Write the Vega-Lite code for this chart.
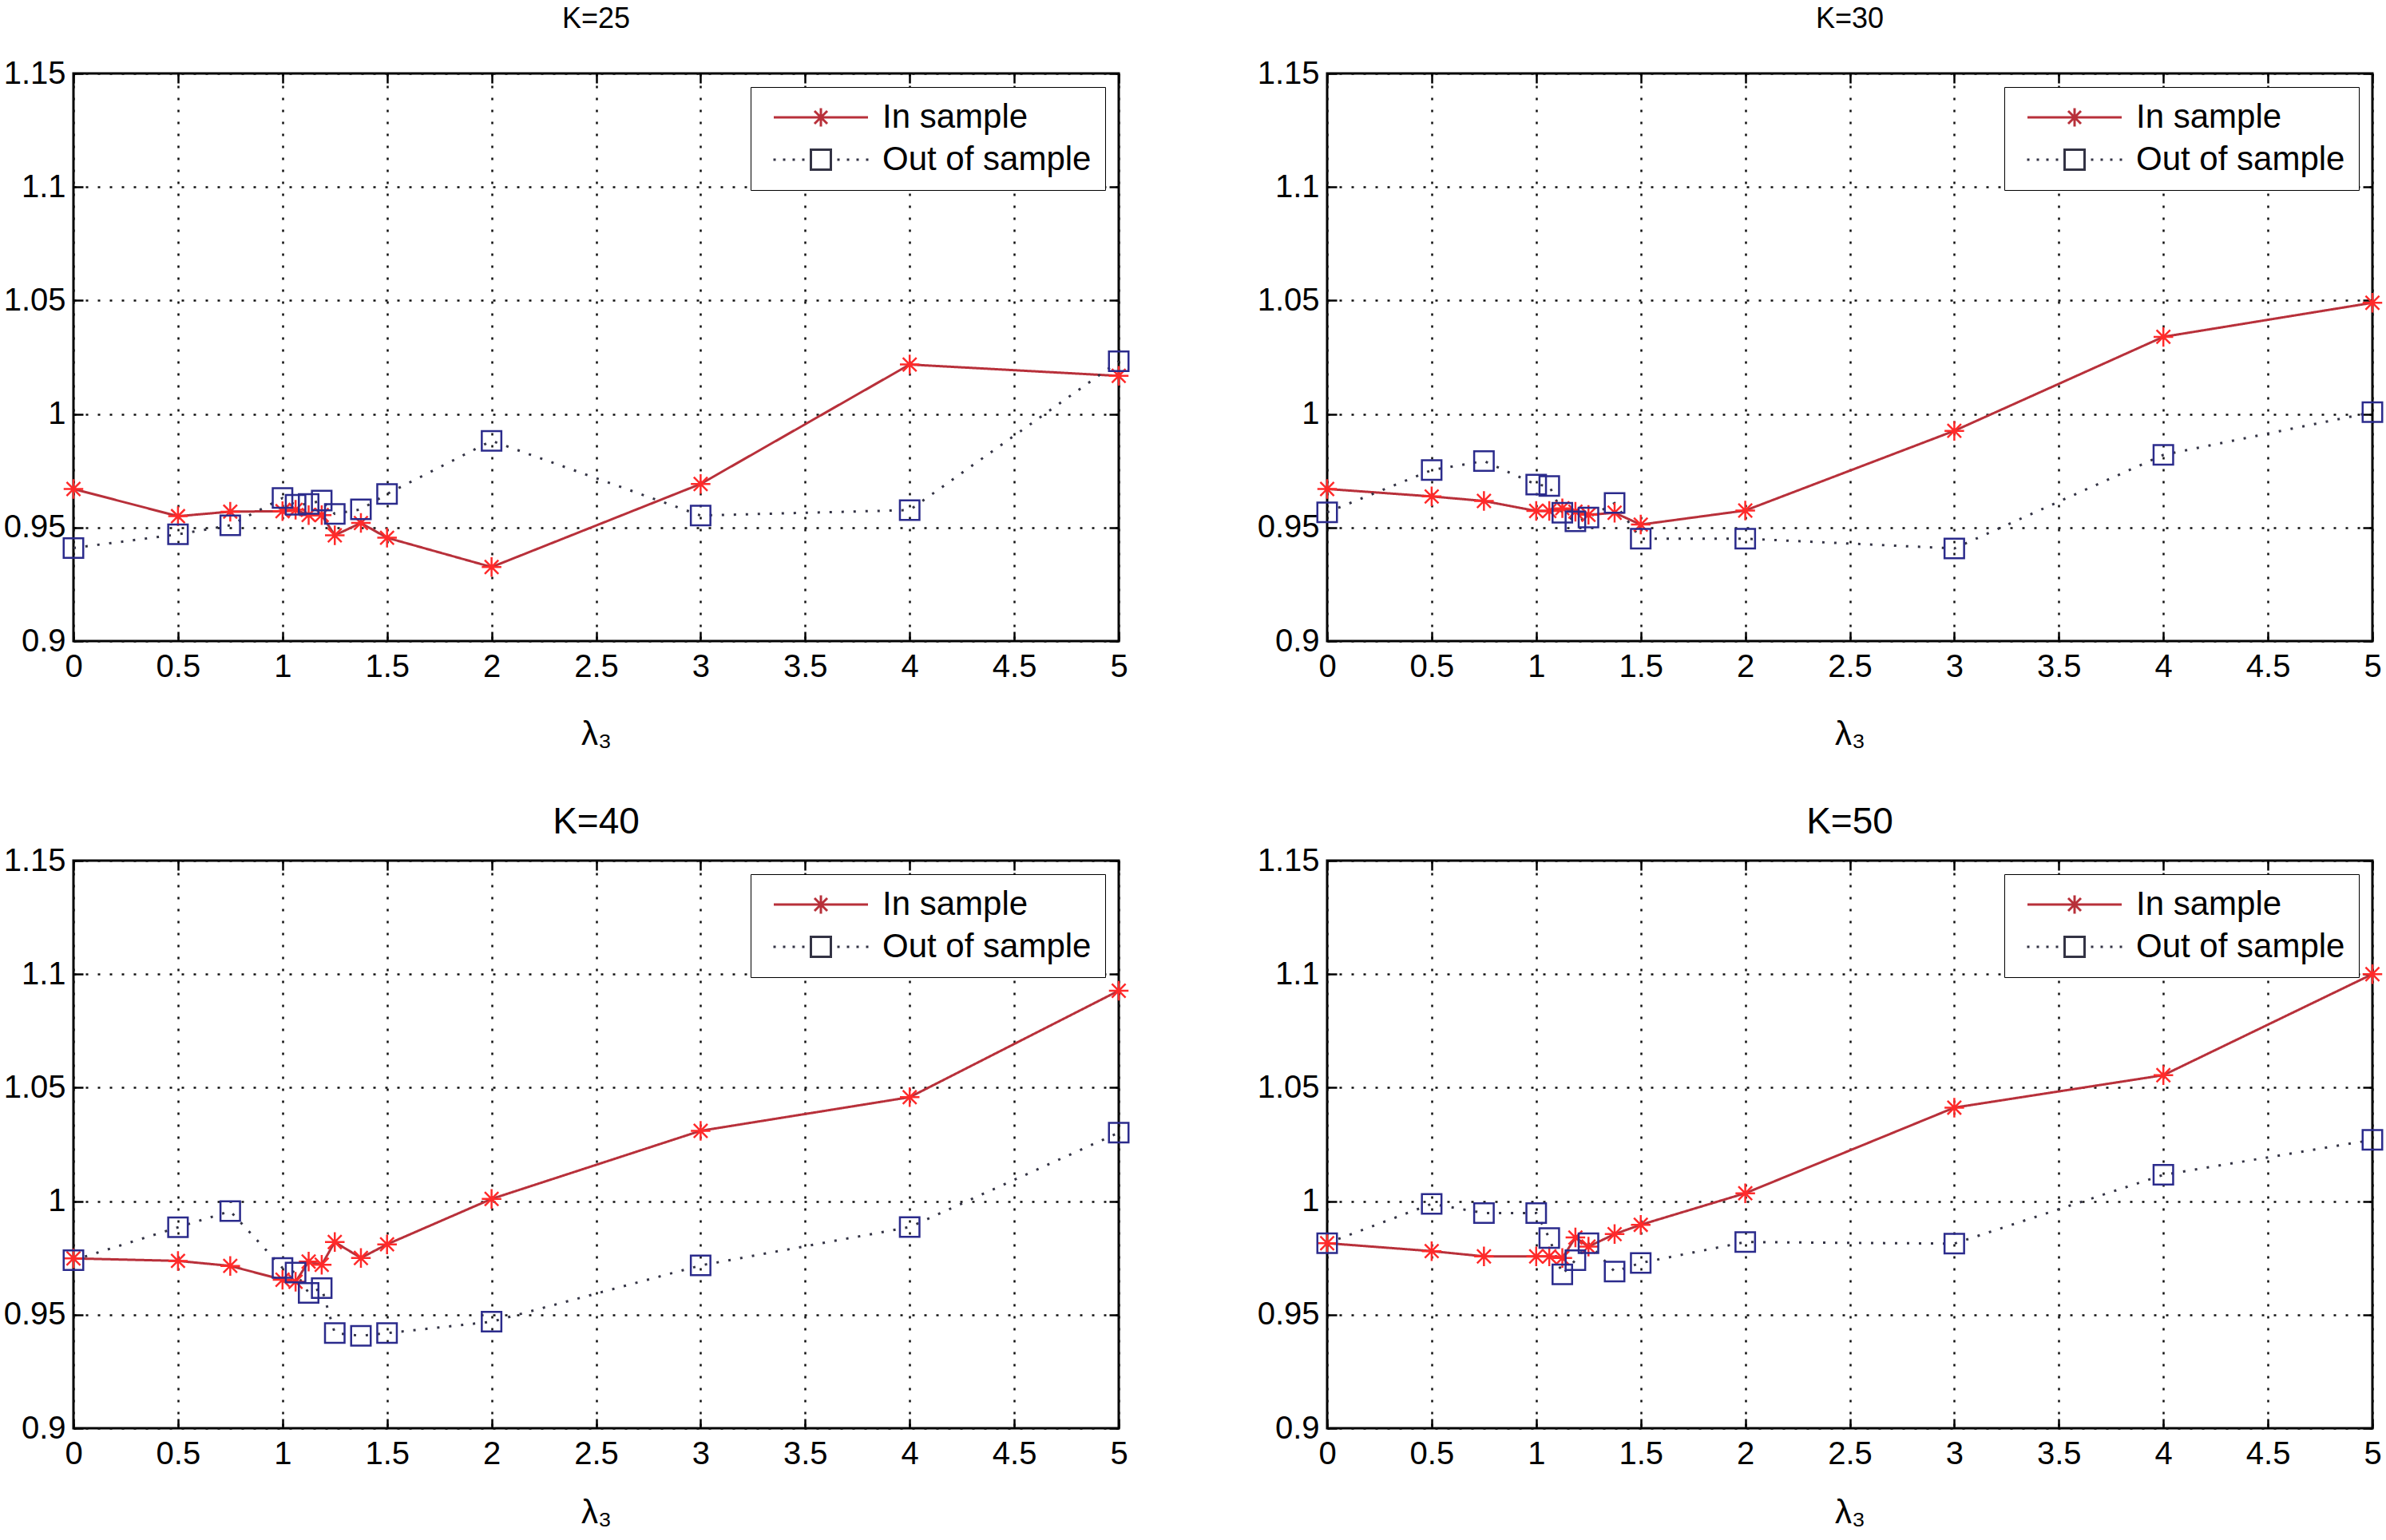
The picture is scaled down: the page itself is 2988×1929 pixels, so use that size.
{
  "$schema": "https://vega.github.io/schema/vega-lite/v6.json",
  "background": "white",
  "padding": {"left": 2, "top": 4, "right": 10, "bottom": 10},
  "datasets": {
    "curves": [
      {"K": 25, "s": "In sample", "x": 0, "y": 0.967},
      {"K": 25, "s": "In sample", "x": 0.5, "y": 0.955},
      {"K": 25, "s": "In sample", "x": 0.75, "y": 0.957},
      {"K": 25, "s": "In sample", "x": 1, "y": 0.9572},
      {"K": 25, "s": "In sample", "x": 1.0625, "y": 0.9578},
      {"K": 25, "s": "In sample", "x": 1.125, "y": 0.9555},
      {"K": 25, "s": "In sample", "x": 1.1875, "y": 0.9555},
      {"K": 25, "s": "In sample", "x": 1.25, "y": 0.9466},
      {"K": 25, "s": "In sample", "x": 1.375, "y": 0.952},
      {"K": 25, "s": "In sample", "x": 1.5, "y": 0.9455},
      {"K": 25, "s": "In sample", "x": 2, "y": 0.9326},
      {"K": 25, "s": "In sample", "x": 3, "y": 0.9692},
      {"K": 25, "s": "In sample", "x": 4, "y": 1.0218},
      {"K": 25, "s": "In sample", "x": 5, "y": 1.0168},
      {"K": 25, "s": "Out of sample", "x": 0, "y": 0.941},
      {"K": 25, "s": "Out of sample", "x": 0.5, "y": 0.947},
      {"K": 25, "s": "Out of sample", "x": 0.75, "y": 0.951},
      {"K": 25, "s": "Out of sample", "x": 1, "y": 0.963},
      {"K": 25, "s": "Out of sample", "x": 1.0625, "y": 0.96},
      {"K": 25, "s": "Out of sample", "x": 1.125, "y": 0.9604},
      {"K": 25, "s": "Out of sample", "x": 1.1875, "y": 0.9619},
      {"K": 25, "s": "Out of sample", "x": 1.25, "y": 0.956},
      {"K": 25, "s": "Out of sample", "x": 1.375, "y": 0.958},
      {"K": 25, "s": "Out of sample", "x": 1.5, "y": 0.9648},
      {"K": 25, "s": "Out of sample", "x": 2, "y": 0.9882},
      {"K": 25, "s": "Out of sample", "x": 3, "y": 0.9553},
      {"K": 25, "s": "Out of sample", "x": 4, "y": 0.9577},
      {"K": 25, "s": "Out of sample", "x": 5, "y": 1.0232},
      {"K": 30, "s": "In sample", "x": 0, "y": 0.967},
      {"K": 30, "s": "In sample", "x": 0.5, "y": 0.9637},
      {"K": 30, "s": "In sample", "x": 0.75, "y": 0.9617},
      {"K": 30, "s": "In sample", "x": 1, "y": 0.9573},
      {"K": 30, "s": "In sample", "x": 1.0625, "y": 0.9573},
      {"K": 30, "s": "In sample", "x": 1.125, "y": 0.9585},
      {"K": 30, "s": "In sample", "x": 1.1875, "y": 0.957},
      {"K": 30, "s": "In sample", "x": 1.25, "y": 0.9556},
      {"K": 30, "s": "In sample", "x": 1.375, "y": 0.9565},
      {"K": 30, "s": "In sample", "x": 1.5, "y": 0.9513},
      {"K": 30, "s": "In sample", "x": 2, "y": 0.9575},
      {"K": 30, "s": "In sample", "x": 3, "y": 0.9926},
      {"K": 30, "s": "In sample", "x": 4, "y": 1.034},
      {"K": 30, "s": "In sample", "x": 5, "y": 1.049},
      {"K": 30, "s": "Out of sample", "x": 0, "y": 0.9567},
      {"K": 30, "s": "Out of sample", "x": 0.5, "y": 0.9753},
      {"K": 30, "s": "Out of sample", "x": 0.75, "y": 0.9793},
      {"K": 30, "s": "Out of sample", "x": 1, "y": 0.9689},
      {"K": 30, "s": "Out of sample", "x": 1.0625, "y": 0.9683},
      {"K": 30, "s": "Out of sample", "x": 1.125, "y": 0.9565},
      {"K": 30, "s": "Out of sample", "x": 1.1875, "y": 0.9527},
      {"K": 30, "s": "Out of sample", "x": 1.25, "y": 0.9544},
      {"K": 30, "s": "Out of sample", "x": 1.375, "y": 0.9608},
      {"K": 30, "s": "Out of sample", "x": 1.5, "y": 0.9451},
      {"K": 30, "s": "Out of sample", "x": 2, "y": 0.9451},
      {"K": 30, "s": "Out of sample", "x": 3, "y": 0.9408},
      {"K": 30, "s": "Out of sample", "x": 4, "y": 0.982},
      {"K": 30, "s": "Out of sample", "x": 5, "y": 1.0008},
      {"K": 40, "s": "In sample", "x": 0, "y": 0.9748},
      {"K": 40, "s": "In sample", "x": 0.5, "y": 0.9737},
      {"K": 40, "s": "In sample", "x": 0.75, "y": 0.9715},
      {"K": 40, "s": "In sample", "x": 1, "y": 0.9654},
      {"K": 40, "s": "In sample", "x": 1.0625, "y": 0.9645},
      {"K": 40, "s": "In sample", "x": 1.125, "y": 0.9734},
      {"K": 40, "s": "In sample", "x": 1.1875, "y": 0.972},
      {"K": 40, "s": "In sample", "x": 1.25, "y": 0.982},
      {"K": 40, "s": "In sample", "x": 1.375, "y": 0.975},
      {"K": 40, "s": "In sample", "x": 1.5, "y": 0.981},
      {"K": 40, "s": "In sample", "x": 2, "y": 1.001},
      {"K": 40, "s": "In sample", "x": 3, "y": 1.031},
      {"K": 40, "s": "In sample", "x": 4, "y": 1.0458},
      {"K": 40, "s": "In sample", "x": 5, "y": 1.0927},
      {"K": 40, "s": "Out of sample", "x": 0, "y": 0.974},
      {"K": 40, "s": "Out of sample", "x": 0.5, "y": 0.9885},
      {"K": 40, "s": "Out of sample", "x": 0.75, "y": 0.9956},
      {"K": 40, "s": "Out of sample", "x": 1, "y": 0.9706},
      {"K": 40, "s": "Out of sample", "x": 1.0625, "y": 0.9686},
      {"K": 40, "s": "Out of sample", "x": 1.125, "y": 0.9596},
      {"K": 40, "s": "Out of sample", "x": 1.1875, "y": 0.9617},
      {"K": 40, "s": "Out of sample", "x": 1.25, "y": 0.9419},
      {"K": 40, "s": "Out of sample", "x": 1.375, "y": 0.9407},
      {"K": 40, "s": "Out of sample", "x": 1.5, "y": 0.9419},
      {"K": 40, "s": "Out of sample", "x": 2, "y": 0.9469},
      {"K": 40, "s": "Out of sample", "x": 3, "y": 0.9717},
      {"K": 40, "s": "Out of sample", "x": 4, "y": 0.9886},
      {"K": 40, "s": "Out of sample", "x": 5, "y": 1.0302},
      {"K": 50, "s": "In sample", "x": 0, "y": 0.9815},
      {"K": 50, "s": "In sample", "x": 0.5, "y": 0.978},
      {"K": 50, "s": "In sample", "x": 0.75, "y": 0.9757},
      {"K": 50, "s": "In sample", "x": 1, "y": 0.9757},
      {"K": 50, "s": "In sample", "x": 1.0625, "y": 0.9757},
      {"K": 50, "s": "In sample", "x": 1.125, "y": 0.975},
      {"K": 50, "s": "In sample", "x": 1.1875, "y": 0.984},
      {"K": 50, "s": "In sample", "x": 1.25, "y": 0.98},
      {"K": 50, "s": "In sample", "x": 1.375, "y": 0.9855},
      {"K": 50, "s": "In sample", "x": 1.5, "y": 0.9896},
      {"K": 50, "s": "In sample", "x": 2, "y": 1.0035},
      {"K": 50, "s": "In sample", "x": 3, "y": 1.0412},
      {"K": 50, "s": "In sample", "x": 4, "y": 1.0555},
      {"K": 50, "s": "In sample", "x": 5, "y": 1.1},
      {"K": 50, "s": "Out of sample", "x": 0, "y": 0.9815},
      {"K": 50, "s": "Out of sample", "x": 0.5, "y": 0.9988},
      {"K": 50, "s": "Out of sample", "x": 0.75, "y": 0.9948},
      {"K": 50, "s": "Out of sample", "x": 1, "y": 0.9948},
      {"K": 50, "s": "Out of sample", "x": 1.0625, "y": 0.9838},
      {"K": 50, "s": "Out of sample", "x": 1.125, "y": 0.9678},
      {"K": 50, "s": "Out of sample", "x": 1.1875, "y": 0.974},
      {"K": 50, "s": "Out of sample", "x": 1.25, "y": 0.9815},
      {"K": 50, "s": "Out of sample", "x": 1.375, "y": 0.969},
      {"K": 50, "s": "Out of sample", "x": 1.5, "y": 0.9728},
      {"K": 50, "s": "Out of sample", "x": 2, "y": 0.982},
      {"K": 50, "s": "Out of sample", "x": 3, "y": 0.9813},
      {"K": 50, "s": "Out of sample", "x": 4, "y": 1.0116},
      {"K": 50, "s": "Out of sample", "x": 5, "y": 1.027}
    ]
  },
  "data": {"name": "curves"},
  "columns": 2,
  "spacing": {"column": 152, "row": 63},
  "resolve": {"legend": {"color": "independent"}},
  "concat": [
    {
      "title": {"text": "K=25", "fontSize": 36, "offset": 29},
      "width": 1309,
      "height": 711,
      "transform": [{"filter": "datum.K == 25"}],
      "resolve": {"axis": {"x": "independent", "y": "independent"}},
      "layer": [
        {
          "mark": {"type": "line", "strokeWidth": 3},
          "encoding": {
            "x": {"field": "x", "type": "quantitative", "scale": {"domain": [0, 5]}, "axis": {"title": "λ₃", "titlePadding": 44, "values": [0, 0.5, 1, 1.5, 2, 2.5, 3, 3.5, 4, 4.5, 5], "format": "~g"}},
            "y": {"field": "y", "type": "quantitative", "scale": {"domain": [0.9, 1.15]}, "axis": {"title": null, "values": [0.9, 0.95, 1, 1.05, 1.1, 1.15], "format": "~g"}},
            "color": {"field": "s", "type": "nominal", "scale": {"domain": ["In sample", "Out of sample"], "range": ["#b8303a", "#333344"]},
              "legend": {"title": null, "orient": "top-right", "offset": 17, "padding": 17, "strokeColor": "black", "fillColor": "white",
                "labelFont": "Liberation Sans", "labelFontSize": 42, "labelColor": "black", "labelLimit": 400, "rowPadding": 11,
                "symbolSize": 400, "symbolOffset": 50, "labelOffset": 56, "symbolStrokeWidth": 3,
                "symbolType": {"expr": "datum.value == 'In sample' ? 'M-5.9,0H5.9M-1.15,0H1.15M0,-1.15V1.15M-0.8,-0.8L0.8,0.8M-0.8,0.8L0.8,-0.8' : 'M-5.95,0H-5.65M-4.75,0H-4.45M-3.55,0H-3.25M-2.35,0H-2.05M2.05,0H2.35M3.25,0H3.55M4.45,0H4.75M5.65,0H5.95M-1.25,-1.25H1.25V1.25H-1.25Z'"},
                "symbolStrokeColor": {"expr": "datum.value == 'In sample' ? '#d0303a' : '#2b2b8c'"}}},
            "strokeDash": {"field": "s", "type": "nominal", "scale": {"domain": ["In sample", "Out of sample"], "range": [[1, 0], [3, 12]]}, "legend": null}
          }
        },
        {
          "mark": {"type": "point", "filled": false, "strokeWidth": 2.5, "opacity": 1},
          "encoding": {
            "x": {"field": "x", "type": "quantitative", "scale": {"domain": [0, 5]}, "axis": {"orient": "top", "title": null, "labels": false, "grid": false, "values": [0, 0.5, 1, 1.5, 2, 2.5, 3, 3.5, 4, 4.5, 5]}},
            "y": {"field": "y", "type": "quantitative", "scale": {"domain": [0.9, 1.15]}, "axis": {"orient": "right", "title": null, "labels": false, "grid": false, "values": [0.9, 0.95, 1, 1.05, 1.1, 1.15]}},
            "shape": {"field": "s", "type": "nominal", "scale": {"domain": ["In sample", "Out of sample"], "range": ["M-1,0H1M0,-1V1M-0.7,-0.7L0.7,0.7M-0.7,0.7L0.7,-0.7", "square"]}, "legend": null},
            "stroke": {"field": "s", "type": "nominal", "scale": {"domain": ["In sample", "Out of sample"], "range": ["#ff2a2a", "#2b2b8c"]}, "legend": null},
            "size": {"value": 600}
          }
        }
      ]
    },
    {
      "title": {"text": "K=30", "fontSize": 36, "offset": 29},
      "width": 1309,
      "height": 711,
      "transform": [{"filter": "datum.K == 30"}],
      "resolve": {"axis": {"x": "independent", "y": "independent"}},
      "layer": [
        {
          "mark": {"type": "line", "strokeWidth": 3},
          "encoding": {
            "x": {"field": "x", "type": "quantitative", "scale": {"domain": [0, 5]}, "axis": {"title": "λ₃", "titlePadding": 44, "values": [0, 0.5, 1, 1.5, 2, 2.5, 3, 3.5, 4, 4.5, 5], "format": "~g"}},
            "y": {"field": "y", "type": "quantitative", "scale": {"domain": [0.9, 1.15]}, "axis": {"title": null, "values": [0.9, 0.95, 1, 1.05, 1.1, 1.15], "format": "~g"}},
            "color": {"field": "s", "type": "nominal", "scale": {"domain": ["In sample", "Out of sample"], "range": ["#b8303a", "#333344"]},
              "legend": {"title": null, "orient": "top-right", "offset": 17, "padding": 17, "strokeColor": "black", "fillColor": "white",
                "labelFont": "Liberation Sans", "labelFontSize": 42, "labelColor": "black", "labelLimit": 400, "rowPadding": 11,
                "symbolSize": 400, "symbolOffset": 50, "labelOffset": 56, "symbolStrokeWidth": 3,
                "symbolType": {"expr": "datum.value == 'In sample' ? 'M-5.9,0H5.9M-1.15,0H1.15M0,-1.15V1.15M-0.8,-0.8L0.8,0.8M-0.8,0.8L0.8,-0.8' : 'M-5.95,0H-5.65M-4.75,0H-4.45M-3.55,0H-3.25M-2.35,0H-2.05M2.05,0H2.35M3.25,0H3.55M4.45,0H4.75M5.65,0H5.95M-1.25,-1.25H1.25V1.25H-1.25Z'"},
                "symbolStrokeColor": {"expr": "datum.value == 'In sample' ? '#d0303a' : '#2b2b8c'"}}},
            "strokeDash": {"field": "s", "type": "nominal", "scale": {"domain": ["In sample", "Out of sample"], "range": [[1, 0], [3, 12]]}, "legend": null}
          }
        },
        {
          "mark": {"type": "point", "filled": false, "strokeWidth": 2.5, "opacity": 1},
          "encoding": {
            "x": {"field": "x", "type": "quantitative", "scale": {"domain": [0, 5]}, "axis": {"orient": "top", "title": null, "labels": false, "grid": false, "values": [0, 0.5, 1, 1.5, 2, 2.5, 3, 3.5, 4, 4.5, 5]}},
            "y": {"field": "y", "type": "quantitative", "scale": {"domain": [0.9, 1.15]}, "axis": {"orient": "right", "title": null, "labels": false, "grid": false, "values": [0.9, 0.95, 1, 1.05, 1.1, 1.15]}},
            "shape": {"field": "s", "type": "nominal", "scale": {"domain": ["In sample", "Out of sample"], "range": ["M-1,0H1M0,-1V1M-0.7,-0.7L0.7,0.7M-0.7,0.7L0.7,-0.7", "square"]}, "legend": null},
            "stroke": {"field": "s", "type": "nominal", "scale": {"domain": ["In sample", "Out of sample"], "range": ["#ff2a2a", "#2b2b8c"]}, "legend": null},
            "size": {"value": 600}
          }
        }
      ]
    },
    {
      "title": {"text": "K=40", "fontSize": 46, "offset": 4},
      "width": 1309,
      "height": 711,
      "transform": [{"filter": "datum.K == 40"}],
      "resolve": {"axis": {"x": "independent", "y": "independent"}},
      "layer": [
        {
          "mark": {"type": "line", "strokeWidth": 3},
          "encoding": {
            "x": {"field": "x", "type": "quantitative", "scale": {"domain": [0, 5]}, "axis": {"title": "λ₃", "titlePadding": 33, "values": [0, 0.5, 1, 1.5, 2, 2.5, 3, 3.5, 4, 4.5, 5], "format": "~g"}},
            "y": {"field": "y", "type": "quantitative", "scale": {"domain": [0.9, 1.15]}, "axis": {"title": null, "values": [0.9, 0.95, 1, 1.05, 1.1, 1.15], "format": "~g"}},
            "color": {"field": "s", "type": "nominal", "scale": {"domain": ["In sample", "Out of sample"], "range": ["#b8303a", "#333344"]},
              "legend": {"title": null, "orient": "top-right", "offset": 17, "padding": 17, "strokeColor": "black", "fillColor": "white",
                "labelFont": "Liberation Sans", "labelFontSize": 42, "labelColor": "black", "labelLimit": 400, "rowPadding": 11,
                "symbolSize": 400, "symbolOffset": 50, "labelOffset": 56, "symbolStrokeWidth": 3,
                "symbolType": {"expr": "datum.value == 'In sample' ? 'M-5.9,0H5.9M-1.15,0H1.15M0,-1.15V1.15M-0.8,-0.8L0.8,0.8M-0.8,0.8L0.8,-0.8' : 'M-5.95,0H-5.65M-4.75,0H-4.45M-3.55,0H-3.25M-2.35,0H-2.05M2.05,0H2.35M3.25,0H3.55M4.45,0H4.75M5.65,0H5.95M-1.25,-1.25H1.25V1.25H-1.25Z'"},
                "symbolStrokeColor": {"expr": "datum.value == 'In sample' ? '#d0303a' : '#2b2b8c'"}}},
            "strokeDash": {"field": "s", "type": "nominal", "scale": {"domain": ["In sample", "Out of sample"], "range": [[1, 0], [3, 12]]}, "legend": null}
          }
        },
        {
          "mark": {"type": "point", "filled": false, "strokeWidth": 2.5, "opacity": 1},
          "encoding": {
            "x": {"field": "x", "type": "quantitative", "scale": {"domain": [0, 5]}, "axis": {"orient": "top", "title": null, "labels": false, "grid": false, "values": [0, 0.5, 1, 1.5, 2, 2.5, 3, 3.5, 4, 4.5, 5]}},
            "y": {"field": "y", "type": "quantitative", "scale": {"domain": [0.9, 1.15]}, "axis": {"orient": "right", "title": null, "labels": false, "grid": false, "values": [0.9, 0.95, 1, 1.05, 1.1, 1.15]}},
            "shape": {"field": "s", "type": "nominal", "scale": {"domain": ["In sample", "Out of sample"], "range": ["M-1,0H1M0,-1V1M-0.7,-0.7L0.7,0.7M-0.7,0.7L0.7,-0.7", "square"]}, "legend": null},
            "stroke": {"field": "s", "type": "nominal", "scale": {"domain": ["In sample", "Out of sample"], "range": ["#ff2a2a", "#2b2b8c"]}, "legend": null},
            "size": {"value": 600}
          }
        }
      ]
    },
    {
      "title": {"text": "K=50", "fontSize": 46, "offset": 4},
      "width": 1309,
      "height": 711,
      "transform": [{"filter": "datum.K == 50"}],
      "resolve": {"axis": {"x": "independent", "y": "independent"}},
      "layer": [
        {
          "mark": {"type": "line", "strokeWidth": 3},
          "encoding": {
            "x": {"field": "x", "type": "quantitative", "scale": {"domain": [0, 5]}, "axis": {"title": "λ₃", "titlePadding": 33, "values": [0, 0.5, 1, 1.5, 2, 2.5, 3, 3.5, 4, 4.5, 5], "format": "~g"}},
            "y": {"field": "y", "type": "quantitative", "scale": {"domain": [0.9, 1.15]}, "axis": {"title": null, "values": [0.9, 0.95, 1, 1.05, 1.1, 1.15], "format": "~g"}},
            "color": {"field": "s", "type": "nominal", "scale": {"domain": ["In sample", "Out of sample"], "range": ["#b8303a", "#333344"]},
              "legend": {"title": null, "orient": "top-right", "offset": 17, "padding": 17, "strokeColor": "black", "fillColor": "white",
                "labelFont": "Liberation Sans", "labelFontSize": 42, "labelColor": "black", "labelLimit": 400, "rowPadding": 11,
                "symbolSize": 400, "symbolOffset": 50, "labelOffset": 56, "symbolStrokeWidth": 3,
                "symbolType": {"expr": "datum.value == 'In sample' ? 'M-5.9,0H5.9M-1.15,0H1.15M0,-1.15V1.15M-0.8,-0.8L0.8,0.8M-0.8,0.8L0.8,-0.8' : 'M-5.95,0H-5.65M-4.75,0H-4.45M-3.55,0H-3.25M-2.35,0H-2.05M2.05,0H2.35M3.25,0H3.55M4.45,0H4.75M5.65,0H5.95M-1.25,-1.25H1.25V1.25H-1.25Z'"},
                "symbolStrokeColor": {"expr": "datum.value == 'In sample' ? '#d0303a' : '#2b2b8c'"}}},
            "strokeDash": {"field": "s", "type": "nominal", "scale": {"domain": ["In sample", "Out of sample"], "range": [[1, 0], [3, 12]]}, "legend": null}
          }
        },
        {
          "mark": {"type": "point", "filled": false, "strokeWidth": 2.5, "opacity": 1},
          "encoding": {
            "x": {"field": "x", "type": "quantitative", "scale": {"domain": [0, 5]}, "axis": {"orient": "top", "title": null, "labels": false, "grid": false, "values": [0, 0.5, 1, 1.5, 2, 2.5, 3, 3.5, 4, 4.5, 5]}},
            "y": {"field": "y", "type": "quantitative", "scale": {"domain": [0.9, 1.15]}, "axis": {"orient": "right", "title": null, "labels": false, "grid": false, "values": [0.9, 0.95, 1, 1.05, 1.1, 1.15]}},
            "shape": {"field": "s", "type": "nominal", "scale": {"domain": ["In sample", "Out of sample"], "range": ["M-1,0H1M0,-1V1M-0.7,-0.7L0.7,0.7M-0.7,0.7L0.7,-0.7", "square"]}, "legend": null},
            "stroke": {"field": "s", "type": "nominal", "scale": {"domain": ["In sample", "Out of sample"], "range": ["#ff2a2a", "#2b2b8c"]}, "legend": null},
            "size": {"value": 600}
          }
        }
      ]
    }
  ],
  "config": {
    "font": "Liberation Sans",
    "view": {"stroke": "black", "strokeWidth": 3},
    "title": {"font": "Liberation Sans", "fontWeight": "normal", "color": "black", "anchor": "middle"},
    "axis": {
      "domain": false,
      "grid": true,
      "gridColor": "#111111",
      "gridDash": [3, 12],
      "gridWidth": 2.5,
      "gridOpacity": 1,
      "ticks": true,
      "tickColor": "black",
      "tickSize": -12,
      "tickWidth": 2.5,
      "labelFont": "Liberation Sans",
      "labelFontSize": 40,
      "labelColor": "black",
      "labelFlush": false,
      "titleFont": "Liberation Sans",
      "titleFontSize": 42,
      "titleFontWeight": "normal",
      "titleColor": "black"
    },
    "axisX": {"labelPadding": 24},
    "axisY": {"labelPadding": 22}
  }
}
